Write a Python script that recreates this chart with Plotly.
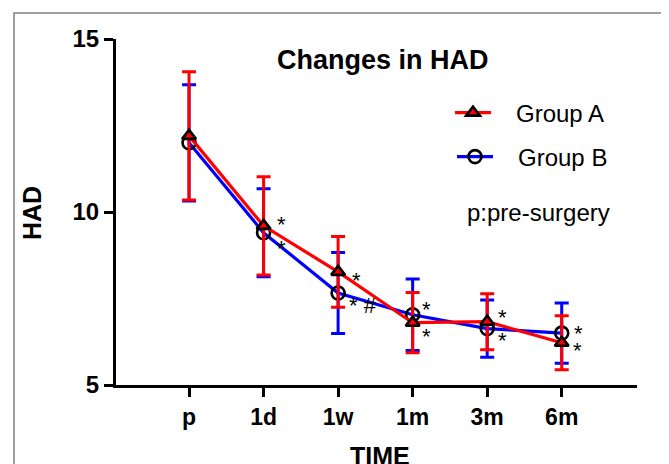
import plotly.graph_objects as go

# ---- data ----
categories = ["p", "1d", "1w", "1m", "3m", "6m"]
group_a_mean = [12.2, 9.6, 8.27, 6.8, 6.83, 6.22]
group_a_err = [1.85, 1.42, 1.02, 0.87, 0.81, 0.78]
group_b_mean = [12.0, 9.4, 7.66, 7.03, 6.63, 6.5]
group_b_err = [1.68, 1.27, 1.17, 1.03, 0.83, 0.87]
sig_a = ["", "*", "*", "*", "*", "*"]
sig_b = ["", "*", "* #", "*", "*", "*"]
y_ticks = [5, 10, 15]

# ---- style: label offsets (px right, px down) ----
off_a = [(0, 0), (18, -6), (18, 4), (14, 9), (15, -9), (16, 3)]
off_b = [(0, 0), (18, 11), (25, 13), (14, -10), (15, 7), (17, -5)]

FONT = "Liberation Sans, Arial, sans-serif"
RED = "#FF0000"
BLUE = "#0000FF"

fig = go.Figure()

fig.add_trace(go.Scatter(
    x=categories, y=group_b_mean, name="\u00a0\u00a0\u00a0Group B",
    mode="lines+markers",
    line=dict(color=BLUE, width=3.2),
    marker=dict(symbol="circle-open", size=13, color="black", line=dict(width=2.6, color="black")),
    error_y=dict(type="data", array=group_b_err, visible=True, color=BLUE, thickness=3, width=7),
    legend="legend2",
))
fig.add_trace(go.Scatter(
    x=categories, y=group_a_mean, name="\u00a0\u00a0\u00a0Group A",
    mode="lines+markers",
    line=dict(color=RED, width=3.2),
    marker=dict(symbol="triangle-up", size=12, color=RED, line=dict(width=2.6, color="black")),
    error_y=dict(type="data", array=group_a_err, visible=True, color=RED, thickness=3, width=7),
    legend="legend",
))

annotations = []
for cat, m, s, (dx, dy) in zip(categories, group_a_mean, sig_a, off_a):
    if s:
        annotations.append(dict(x=cat, y=m, xref="x", yref="y", text=s, showarrow=False,
                                xshift=dx, yshift=-(dy + 5), font=dict(family=FONT, size=22, color="black")))
for cat, m, s, (dx, dy) in zip(categories, group_b_mean, sig_b, off_b):
    if s:
        extra = 5 if s == "*" else 0
        annotations.append(dict(x=cat, y=m, xref="x", yref="y", text=s, showarrow=False,
                                xshift=dx, yshift=-(dy + extra), font=dict(family=FONT, size=22, color="black")))

# page body has an 8px margin; screen targets are shifted accordingly
OFF = 8
W, H = 669, 464
L = 116 - OFF
T = 39 - OFF
R = W - (637 - OFF)
B = H - (385 - OFF)
pw, ph = W - L - R, H - T - B

def px(xs):
    return (xs - OFF - L) / pw

def py(ys):
    return (H - B - (ys - OFF)) / ph

annotations += [
    dict(x=px(383), y=py(60), xref="paper", yref="paper", text="Changes in HAD", showarrow=False,
         font=dict(family=FONT, size=27, color="black", weight="bold"), xanchor="center", yanchor="middle"),
    dict(x=px(538), y=py(212), xref="paper", yref="paper", text="p:pre-surgery", showarrow=False,
         font=dict(family=FONT, size=24, color="black"), xanchor="center", yanchor="middle"),
    dict(x=px(32), y=py(213), xref="paper", yref="paper", text="HAD", showarrow=False, textangle=-90,
         font=dict(family=FONT, size=25, color="black", weight="bold"), xanchor="center", yanchor="middle"),
    dict(x=px(380), y=py(456), xref="paper", yref="paper", text="TIME", showarrow=False,
         font=dict(family=FONT, size=25, color="black", weight="bold"), xanchor="center", yanchor="middle"),
]

legend_common = dict(font=dict(family=FONT, size=24, color="black"), bgcolor="rgba(0,0,0,0)",
                     xanchor="left", yanchor="middle", itemwidth=36, borderwidth=0)

fig.update_layout(
    width=W, height=H,
    margin=dict(l=L, r=R, t=T, b=B),
    paper_bgcolor="white", plot_bgcolor="white",
    showlegend=True,
    legend=dict(x=px(450), y=py(113), **legend_common),
    legend2=dict(x=px(452), y=py(157), **legend_common),
    annotations=annotations,
    shapes=[dict(type="rect", xref="paper", yref="paper",
                 x0=px(14), x1=px(666), y0=py(530), y1=py(13),
                 line=dict(color="#808080", width=1.5))],
    xaxis=dict(type="category", range=[-0.98, 6.01], showline=True, linecolor="black", linewidth=3,
               ticks="outside", ticklen=9, tickwidth=3, tickcolor="black", showgrid=False, zeroline=False,
               tickfont=dict(family=FONT, size=23, color="black", weight="bold"), fixedrange=True),
    yaxis=dict(range=[5, 15], tickvals=y_ticks, showline=True, linecolor="black", linewidth=3,
               ticks="outside", ticklen=9, tickwidth=3, tickcolor="black", showgrid=False, zeroline=False,
               tickfont=dict(family=FONT, size=24, color="black", weight="bold"), fixedrange=True),
)

fig.write_html("out.html")
